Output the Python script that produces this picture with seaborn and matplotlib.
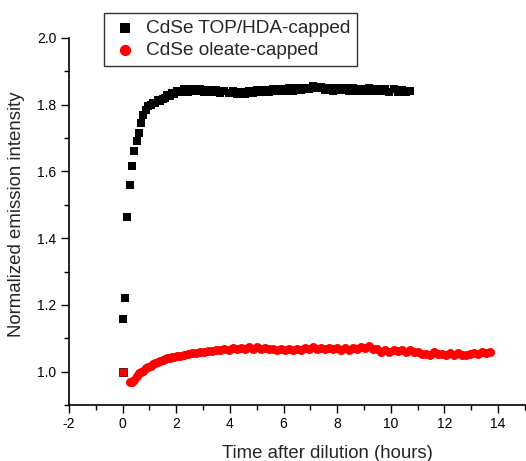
import numpy as np
import pandas as pd
import matplotlib
matplotlib.use("Agg")
import matplotlib.pyplot as plt
import seaborn as sns
from matplotlib.ticker import MultipleLocator, FormatStrFormatter

sns.set_style("ticks")
plt.rcParams['font.family'] = ['Liberation Sans', 'DejaVu Sans']
plt.rcParams['axes.unicode_minus'] = False

# ---- data ----
top_t = [0.00, 0.09, 0.175, 0.26, 0.35, 0.44, 0.52, 0.61, 0.70, 0.78, 0.87, 0.96,
         1.05, 1.14, 1.22, 1.31, 1.40, 1.49, 1.58, 1.66, 1.75, 1.84, 1.93, 2.02,
         2.15, 2.30, 2.45, 2.60, 2.75, 2.90, 3.05, 3.20, 3.35, 3.50, 3.65, 3.80,
         3.95, 4.10, 4.25, 4.40, 4.55, 4.70, 4.85, 5.00, 5.15, 5.30, 5.45, 5.60,
         5.75, 5.90, 6.05, 6.20, 6.35, 6.50, 6.65, 6.80, 6.95, 7.10, 7.25, 7.40,
         7.55, 7.70, 7.85, 8.00, 8.15, 8.30, 8.45, 8.60, 8.75, 8.90, 9.05, 9.20,
         9.35, 9.50, 9.65, 9.80, 9.95, 10.10, 10.25, 10.40, 10.55, 10.70]
top_v = [1.157, 1.220, 1.462, 1.558, 1.617, 1.662, 1.690, 1.716, 1.745, 1.770, 1.785, 1.795,
         1.800, 1.806, 1.804, 1.814, 1.810, 1.818, 1.820, 1.828, 1.826, 1.836, 1.832, 1.840,
         1.838, 1.846, 1.839, 1.847, 1.840, 1.846, 1.838, 1.845, 1.837, 1.843, 1.836, 1.842,
         1.834, 1.840, 1.832, 1.839, 1.833, 1.840, 1.835, 1.843, 1.837, 1.845, 1.838, 1.846,
         1.840, 1.848, 1.841, 1.849, 1.842, 1.850, 1.843, 1.850, 1.846, 1.855, 1.850, 1.853,
         1.843, 1.850, 1.842, 1.850, 1.843, 1.849, 1.841, 1.849, 1.842, 1.848, 1.841, 1.849,
         1.842, 1.848, 1.840, 1.847, 1.839, 1.846, 1.838, 1.844, 1.837, 1.840]

ole_t0 = [0.0]
ole_v0 = [1.0]
ole_t = [0.26, 0.35, 0.44, 0.52, 0.61, 0.70, 0.78, 0.87, 0.96, 1.05, 1.14, 1.22,
         1.31, 1.40, 1.49, 1.58, 1.66, 1.75, 1.84, 1.93, 2.02, 2.15, 2.30, 2.45,
         2.60, 2.75, 2.90, 3.05, 3.20, 3.35, 3.50, 3.65, 3.80, 3.95, 4.10, 4.25,
         4.40, 4.55, 4.70, 4.85, 5.00, 5.15, 5.30, 5.45, 5.60, 5.75, 5.90, 6.05,
         6.20, 6.35, 6.50, 6.65, 6.80, 6.95, 7.10, 7.25, 7.40, 7.55, 7.70, 7.85,
         8.00, 8.15, 8.30, 8.45, 8.60, 8.75, 8.90, 9.05, 9.20, 9.35, 9.50, 9.65,
         9.80, 9.95, 10.10, 10.25, 10.40, 10.55, 10.70, 10.85, 11.00, 11.15, 11.30, 11.45,
         11.60, 11.75, 11.90, 12.05, 12.20, 12.35, 12.50, 12.65, 12.80, 12.95, 13.10, 13.25,
         13.40, 13.55, 13.70]
ole_v = [0.970, 0.970, 0.975, 0.986, 0.995, 1.000, 1.003, 1.010, 1.015, 1.018, 1.022, 1.026,
         1.030, 1.032, 1.035, 1.037, 1.040, 1.041, 1.043, 1.045, 1.046, 1.048, 1.050, 1.052,
         1.055, 1.057, 1.058, 1.060, 1.062, 1.063, 1.065, 1.066, 1.068, 1.065, 1.070, 1.067,
         1.072, 1.068, 1.073, 1.068, 1.074, 1.069, 1.072, 1.067, 1.069, 1.065, 1.067, 1.064,
         1.069, 1.065, 1.067, 1.065, 1.071, 1.069, 1.074, 1.069, 1.072, 1.067, 1.070, 1.067,
         1.070, 1.066, 1.070, 1.066, 1.072, 1.069, 1.073, 1.071, 1.076, 1.069, 1.068, 1.060,
         1.065, 1.060, 1.066, 1.061, 1.065, 1.059, 1.064, 1.060, 1.059, 1.054, 1.053, 1.051,
         1.058, 1.053, 1.054, 1.050, 1.055, 1.051, 1.057, 1.049, 1.050, 1.053, 1.057, 1.052,
         1.059, 1.055, 1.058]

labels = ["CdSe TOP/HDA-capped", "CdSe oleate-capped"]
x_ticks = [-2, 0, 2, 4, 6, 8, 10, 12, 14]
y_ticks = [1.0, 1.2, 1.4, 1.6, 1.8, 2.0]

df_top = pd.DataFrame({"t": top_t, "v": top_v})
df_ole = pd.DataFrame({"t": ole_t, "v": ole_v})
df_ole0 = pd.DataFrame({"t": ole_t0, "v": ole_v0})

fig = plt.figure(figsize=(5.26, 4.61), dpi=100)
ax = fig.add_axes([0.131, 0.1215, 0.867, 0.7961])

sns.scatterplot(data=df_top, x="t", y="v", ax=ax, marker="s", s=32, color="black",
                edgecolor="black", linewidth=0, label=labels[0], zorder=3)
sns.scatterplot(data=df_ole, x="t", y="v", ax=ax, marker="o", s=42, color="red",
                edgecolor="red", linewidth=0, label=labels[1], zorder=3)
sns.scatterplot(data=df_ole0, x="t", y="v", ax=ax, marker="s", s=32, color="red",
                edgecolor="#550000", linewidth=0.6, legend=False, zorder=4)

ax.set_xlim(-2, 15)
ax.set_ylim(0.9, 2.0)
ax.set_xticks(x_ticks)
ax.set_yticks(y_ticks)
ax.xaxis.set_minor_locator(MultipleLocator(1))
ax.yaxis.set_minor_locator(MultipleLocator(0.1))
ax.yaxis.set_major_formatter(FormatStrFormatter('%.1f'))
ax.tick_params(axis='both', which='major', direction='out', length=6, width=1,
               labelsize=10, color='black', labelcolor='black', pad=3)
ax.tick_params(axis='both', which='minor', direction='out', length=3.5, width=1, color='black')

for side in ['top', 'right']:
    ax.spines[side].set_visible(False)
for side in ['left', 'bottom']:
    ax.spines[side].set_linewidth(1.2)
    ax.spines[side].set_color('black')

ax.set_xlabel("Time after dilution (hours)", fontsize=13.4)
ax.set_ylabel("Normalized emission intensity", fontsize=13.4)
ax.xaxis.set_label_coords(0.566, -0.108)
ax.yaxis.set_label_coords(-0.097, 0.52)

ax.get_legend().remove()
handles, lbls = ax.get_legend_handles_labels()
leg = fig.legend(handles, lbls, loc='upper left', bbox_to_anchor=(0.198, 0.972),
                 borderaxespad=0, fontsize=13.7, frameon=True, fancybox=False,
                 edgecolor='black', handletextpad=0.35, borderpad=0.35,
                 labelspacing=0.25, markerscale=1.25, handlelength=1.5)
leg.get_frame().set_linewidth(1.0)

fig.savefig("out.png", dpi=100)
